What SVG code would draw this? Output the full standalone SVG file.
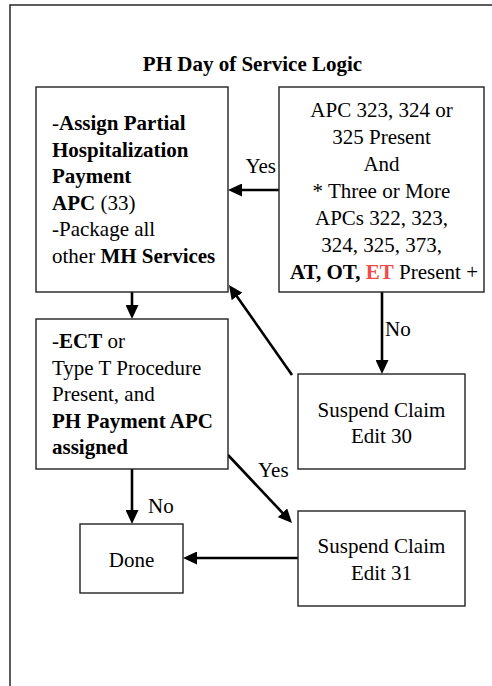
<svg xmlns="http://www.w3.org/2000/svg" width="492" height="686" viewBox="0 0 492 686" font-family="'Liberation Serif', 'Times New Roman', 'DejaVu Serif', serif">
  <style>
    text { font-family: 'Liberation Serif', 'Times New Roman', Times, 'DejaVu Serif', serif; font-size: 21px; fill: #000; }
    .b { font-weight: bold; }
    .red { fill: #f24b4b; }
    .mid { text-anchor: middle; }
    .box { fill: #fff; stroke: #222; stroke-width: 1.4; }
    .frame { fill: none; stroke: #333; stroke-width: 1.6; }
    .link { fill: none; stroke: #000; stroke-width: 2.6; marker-end: url(#head); }
  </style>
  <defs>
    <marker id="head" markerUnits="userSpaceOnUse" markerWidth="14" markerHeight="13" refX="8" refY="6.5" orient="auto">
      <path d="M0,0 L14,6.5 L0,13 Z" fill="#000"/>
    </marker>
  </defs>
  <rect width="492" height="686" fill="#fff"/>

  <!-- page frame -->
  <rect class="frame" x="10" y="5" width="500" height="700"/>

  <text id="title" class="b mid" x="252.5" y="71">PH Day of Service Logic</text>

  <!-- connectors -->
  <g id="connectors">
    <path class="link" d="M279,190 L234,190"/>
    <text x="276" y="173" text-anchor="end">Yes</text>
    <path class="link" d="M132,292 L132,313"/>
    <path class="link" d="M382,292 L382,368"/>
    <text x="385" y="336">No</text>
    <path class="link" d="M292,375 L232.4,289.9"/>
    <path class="link" d="M228,455 L287.9,518.6"/>
    <text x="258" y="477">Yes</text>
    <path class="link" d="M132,469 L132,518"/>
    <text x="148" y="513">No</text>
    <path class="link" d="M298,558 L189,558"/>
  </g>

  <!-- assign partial hospitalization payment -->
  <g id="assign-apc">
    <rect class="box" x="36" y="87" width="192" height="205"/>
    <text x="52" y="130">-<tspan class="b">Assign Partial</tspan></text>
    <text class="b" x="52" y="157">Hospitalization</text>
    <text class="b" x="52" y="183">Payment</text>
    <text x="52" y="210"><tspan class="b">APC</tspan> (33)</text>
    <text x="52" y="236">-Package all</text>
    <text x="52" y="263">other <tspan class="b">MH Services</tspan></text>
  </g>

  <!-- APC condition check -->
  <g id="apc-check">
    <rect class="box" x="279" y="87" width="205" height="205"/>
    <text class="mid" x="381.5" y="117">APC 323, 324 or</text>
    <text class="mid" x="381.5" y="144">325 Present</text>
    <text class="mid" x="381.5" y="171">And</text>
    <text class="mid" x="381.5" y="198">* Three or More</text>
    <text class="mid" x="381.5" y="225">APCs 322, 323,</text>
    <text class="mid" x="381.5" y="252">324, 325, 373,</text>
    <text class="mid" x="384" y="279"><tspan class="b">AT, OT, </tspan><tspan class="b red">ET</tspan> Present +</text>
  </g>

  <!-- ECT / type T check -->
  <g id="ect-check">
    <rect class="box" x="36" y="319" width="192" height="150"/>
    <text x="52" y="348">-<tspan class="b">ECT</tspan> or</text>
    <text x="52" y="375">Type T Procedure</text>
    <text x="52" y="401">Present, and</text>
    <text class="b" x="52" y="428">PH Payment APC</text>
    <text class="b" x="52" y="454">assigned</text>
  </g>

  <!-- suspend claim edit 30 -->
  <g id="suspend-30">
    <rect class="box" x="298" y="374" width="167" height="95"/>
    <text class="mid" x="381.5" y="417">Suspend Claim</text>
    <text class="mid" x="381.5" y="443">Edit 30</text>
  </g>

  <!-- suspend claim edit 31 -->
  <g id="suspend-31">
    <rect class="box" x="298" y="511" width="167" height="95"/>
    <text class="mid" x="381.5" y="553">Suspend Claim</text>
    <text class="mid" x="381.5" y="580">Edit 31</text>
  </g>

  <!-- done -->
  <g id="done">
    <rect class="box" x="80" y="524" width="103" height="69"/>
    <text class="mid" x="131.5" y="567">Done</text>
  </g>
</svg>
